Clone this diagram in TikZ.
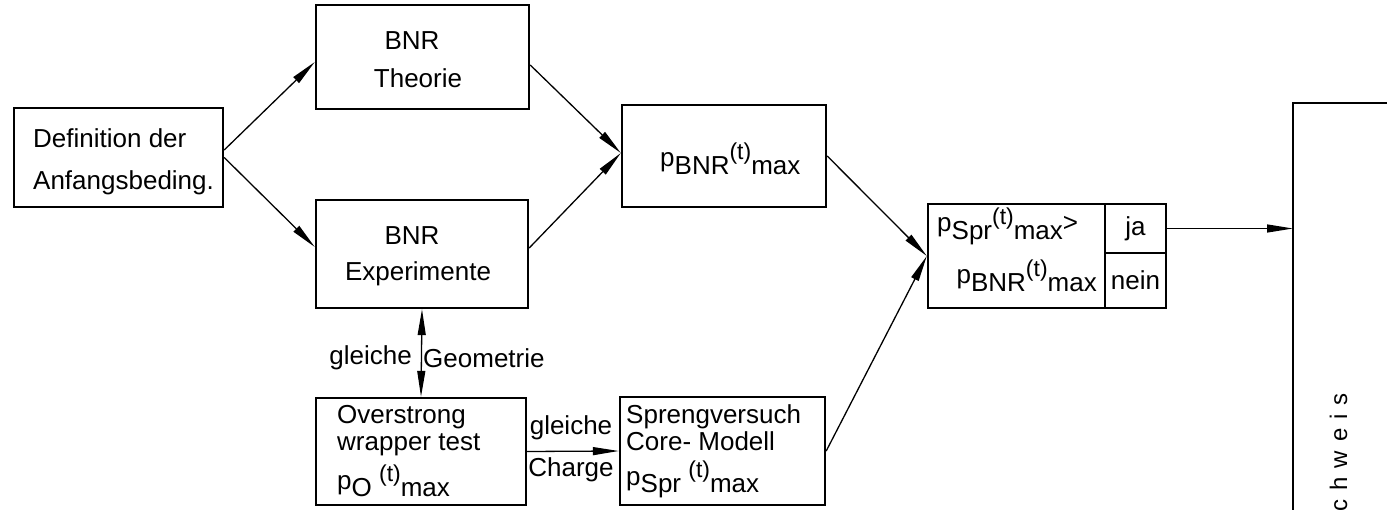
\documentclass[tikz,border=0pt]{standalone}
\usepackage{fontspec}
\setmainfont{Liberation Sans}
\usetikzlibrary{arrows.meta}
\newcommand{\dnx}[1]{\raisebox{-0.3em}{#1}}
\newcommand{\upx}[1]{\raisebox{0.3em}{\fontsize{23}{23}\selectfont #1}}
\tikzset{
  box/.style={draw, line width=2.4pt, inner sep=0pt},
  cell/.style={draw, line width=1.8pt, inner sep=0pt, font=\fontsize{26}{30}\selectfont},
  tip/.tip={Triangle[length=26pt,width=8pt]},
  conn/.style={line width=1.3pt, -tip},
  conntwo/.style={line width=1.3pt, tip-tip},
  txt/.style={inner sep=0pt, font=\fontsize{26}{30}\selectfont},
}
\begin{document}
\begin{tikzpicture}[x=1pt,y=-1pt]
\useasboundingbox (0,0) rectangle (1387,510);

% boxes
\node[box, minimum width=209pt, minimum height=99pt] (def) at (118.5,157.5) {};
\node[box, minimum width=213pt, minimum height=104pt] (theo) at (422.5,57) {};
\node[box, minimum width=212pt, minimum height=108pt] (expe) at (422,254) {};
\node[box, minimum width=204pt, minimum height=102pt] (pbnr) at (724,156) {};
\node[box, minimum width=210pt, minimum height=107pt] (over) at (421,451.5) {};
\node[box, minimum width=205pt, minimum height=108pt] (spr) at (722.5,451) {};
\node[box, minimum width=238pt, minimum height=104pt] (dec) at (1047,256) {};
\node[cell, minimum width=61pt, minimum height=49pt] (ja) at (1135.5,228.5) {ja};
\node[cell, minimum width=61pt, minimum height=55pt] (nein) at (1135.5,280.5) {nein};
\coordinate (bigTL) at (1293,103);
\coordinate (jaT) at (1293,228.5);
\draw[line width=2.6pt] (1400,103) -- (bigTL) -- (1293,530);

% texts
\node[txt, anchor=base west] (tdef1) at (33,148) {Definition der};
\node[txt, anchor=base west] (tdef2) at (33,190) {Anfangsbeding.};
\node[txt, anchor=base] (ttheo1) at (412,50) {BNR};
\node[txt, anchor=base] (ttheo2) at (418,88) {Theorie};
\node[txt, anchor=base] (texpe1) at (412,245) {BNR};
\node[txt, anchor=base] (texpe2) at (418,281) {Experimente};
\node[txt, anchor=base west] (tpb) at (660,167) {p\dnx{BNR}\upx{(t)}\dnx{max}};
\node[txt, anchor=base west] (tov1) at (337,424) {Overstrong};
\node[txt, anchor=base west] (tov2) at (337,450) {wrapper test};
\node[txt, anchor=base west] (tov3) at (337,489) {p\dnx{O}\ \upx{(t)}\dnx{max}};
\node[txt, anchor=base west] (tsp1) at (626,424) {Sprengversuch};
\node[txt, anchor=base west] (tsp2) at (626,450) {Core- Modell};
\node[txt, anchor=base west] (tsp3) at (626,485) {p\dnx{Spr}\ \upx{(t)}\dnx{max}};
\node[txt, anchor=base west] (tdec1) at (937,232) {p\dnx{Spr}\upx{(t)}\dnx{max}>};
\node[txt, anchor=base east] (tdec2) at (1097,284) {p\dnx{BNR}\upx{(t)}\dnx{max}};
\node[inner sep=0pt, font=\fontsize{24}{24}\selectfont, rotate=90, anchor=base east] (nach) at (1347,393)
  {c\hspace{9pt}h\hspace{9pt}w\hspace{9pt}e\hspace{9pt}i\hspace{9pt}s};

% labels
\node[txt, anchor=east] (lg1) at (412,358) {gleiche};
\node[txt, anchor=west] (lg2) at (423,358) {Geometrie};
\node[txt] (lc1) at (571,428) {gleiche};
\node[txt] (lc2) at (571,470) {Charge};

% connectors
\draw[conn] ([yshift=7.5pt]def.east) -- ([yshift=-5pt]theo.west);
\draw[conn] (def.east) -- ([yshift=7pt]expe.west);
\draw[conn] ([yshift=-8pt]theo.east) -- ([yshift=3pt]pbnr.west);
\draw[conn] ([yshift=6pt]expe.east) -- ([yshift=3pt]pbnr.west);
\draw[conn] (pbnr.east) -- (dec.west);
\draw[conn] (spr.east) -- (dec.west);
\draw[conntwo] (expe.south) -- (over.north);
\draw[conn] (over.east) -- (spr.west);
\draw[conn] (ja.east) -- (jaT);
\end{tikzpicture}
\end{document}
